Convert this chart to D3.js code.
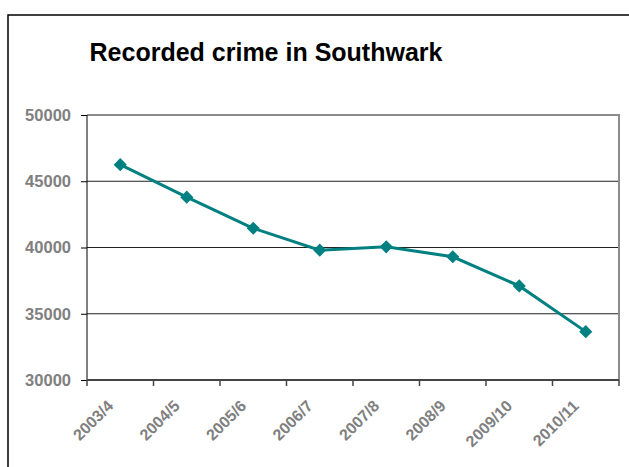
<!DOCTYPE html>
<html>
<head>
<meta charset="utf-8">
<script src="https://cdn.jsdelivr.net/npm/d3@7"></script>
<style>
  body { margin: 0; background: #fff; }
  svg { display: block; font-family: "Liberation Sans", Arial, sans-serif; }
</style>
</head>
<body>
<svg width="629" height="467"></svg>
<script>
/* chart data */
var years = ["2003/4", "2004/5", "2005/6", "2006/7", "2007/8", "2008/9", "2009/10", "2010/11"];
var crimes = [46250, 43800, 41450, 39800, 40050, 39300, 37100, 33650];
var yTicks = [30000, 35000, 40000, 45000, 50000];

var svg = d3.select("svg"),
    margin = {top: 115, right: 10, bottom: 87, left: 87},
    width = +svg.attr("width") - margin.left - margin.right,
    height = +svg.attr("height") - margin.top - margin.bottom;

/* outer frame, runs off the right and bottom edge */
svg.append("rect")
    .attr("x", 8).attr("y", 15)
    .attr("width", 700).attr("height", 600)
    .attr("fill", "none")
    .attr("stroke", "#000")
    .attr("stroke-width", 1.5);

svg.append("text")
    .attr("x", 266)
    .attr("y", 61)
    .attr("text-anchor", "middle")
    .attr("font-size", "25px")
    .attr("font-weight", "bold")
    .text("Recorded crime in Southwark");

var x = d3.scaleBand().domain(years).range([0, width]),
    y = d3.scaleLinear().domain([30000, 50000]).range([height, 0]);

var g = svg.append("g")
    .attr("transform", "translate(" + margin.left + "," + margin.top + ")");

/* grid lines */
g.selectAll(".grid")
  .data(yTicks.filter(function(d) { return d > 30000 && d < 50000; }))
  .enter().append("line")
    .attr("x1", 0).attr("x2", width)
    .attr("y1", function(d) { return y(d); })
    .attr("y2", function(d) { return y(d); })
    .attr("stroke", "#222")
    .attr("stroke-width", 1);

/* plot area top and right edge */
g.append("path")
    .attr("d", "M0," + y(50000) + "H" + width + "V" + height)
    .attr("fill", "none")
    .attr("stroke", "#8c8c8c")
    .attr("stroke-width", 2);

/* y axis */
var yAxis = g.append("g")
    .call(d3.axisLeft(y).tickValues(yTicks).tickSize(6).tickPadding(10).tickFormat(d3.format("d")));
yAxis.select(".domain").attr("stroke", "#000").attr("d", "M0," + height + "V0");
yAxis.selectAll(".tick line").attr("stroke", "#000");
yAxis.selectAll("text")
    .attr("fill", "#808080")
    .attr("font-size", "16.5px")
    .attr("font-weight", "bold")
    .attr("font-family", "Liberation Sans, Arial, sans-serif");

/* x axis: ticks at band edges */
var xAxis = g.append("g")
    .attr("transform", "translate(0," + height + ")");
xAxis.append("line")
    .attr("x1", 0).attr("x2", width)
    .attr("stroke", "#444")
    .attr("stroke-width", 2);
xAxis.selectAll(".xtick")
  .data(years.map(function(d) { return x(d); }).concat([width]))
  .enter().append("line")
    .attr("x1", function(d) { return d; })
    .attr("x2", function(d) { return d; })
    .attr("y1", 0).attr("y2", 6)
    .attr("stroke", "#444")
    .attr("stroke-width", 1.5);
xAxis.selectAll(".xlabel")
  .data(years)
  .enter().append("text")
    .attr("transform", function(d) {
      return "translate(" + (x(d) + x.bandwidth() / 2 - 6) + ",27) rotate(-45)";
    })
    .attr("text-anchor", "end")
    .attr("fill", "#808080")
    .attr("font-size", "16px")
    .attr("font-weight", "bold")
    .text(function(d) { return d; });

/* the line and its diamonds */
var line = d3.line()
    .x(function(d, i) { return x(years[i]) + x.bandwidth() / 2; })
    .y(function(d) { return y(d); });

g.append("path")
    .datum(crimes)
    .attr("d", line)
    .attr("fill", "none")
    .attr("stroke", "#008080")
    .attr("stroke-width", 3);

g.selectAll(".dot")
  .data(crimes)
  .enter().append("path")
    .attr("d", d3.symbol().type(d3.symbolDiamond2).size(110))
    .attr("transform", function(d, i) {
      return "translate(" + (x(years[i]) + x.bandwidth() / 2) + "," + y(d) + ")";
    })
    .attr("fill", "#008080");
</script>
</body>
</html>
